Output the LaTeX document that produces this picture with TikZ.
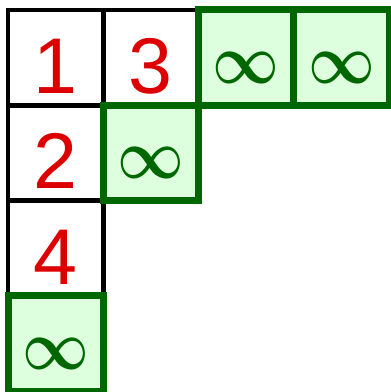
\documentclass[tikz,border=0pt]{standalone}
\usepackage{fontspec}
\usepackage{graphicx}
\setmainfont{Liberation Sans}
\usetikzlibrary{positioning}
\definecolor{numred}{RGB}{221,0,0}
\definecolor{infgreen}{RGB}{0,102,0}
\definecolor{infbg}{RGB}{221,255,221}
\newcommand{\infsym}{\scalebox{5.8}[7]{\boldmath$\infty$}}

\begin{document}
\begin{tikzpicture}[x=1pt,y=1pt,
	cell/.style={draw=black,line width=4.5pt,minimum size=95.3pt,inner sep=0pt,outer sep=0pt,
		text=numred,font=\fontsize{79}{79}\selectfont,text height=72pt,text depth=0pt},
	infcell/.style={cell,draw=infgreen,fill=infbg,line width=7pt,text=infgreen,
		font=\normalsize,text height=51pt}]
	\useasboundingbox (0,0) rectangle (391,392);
	% tableau entries
	\node[cell] (c11) at (55.65,334.35) {1};
	\node[cell,right=0pt of c11] (c12) {3};
	\node[cell,below=0pt of c11] (c21) {2};
	\node[cell,below=0pt of c21] (c31) {4};
	% infinite cells on the border
	\node[infcell,right=0pt of c12] (c13) {\infsym};
	\node[infcell,right=0pt of c13] (c14) {\infsym};
	\node[infcell,right=0pt of c21] (c22) {\infsym};
	\node[infcell,below=0pt of c31] (c41) {\infsym};
\end{tikzpicture}
\end{document}
